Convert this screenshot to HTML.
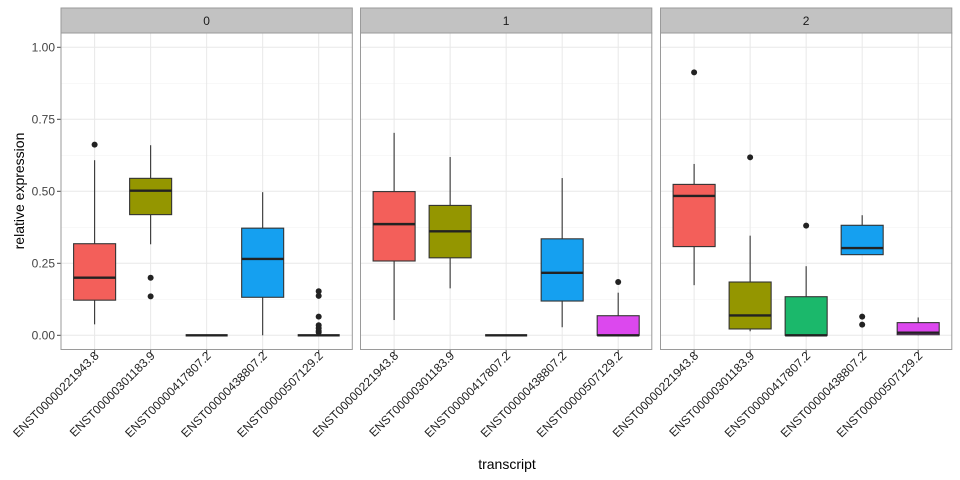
<!DOCTYPE html>
<html><head><meta charset="utf-8"><style>
html,body{margin:0;padding:0;background:#fff;}
svg{display:block;font-family:"Liberation Sans",Arial,sans-serif;}
</style></head><body>
<svg id="chart" width="960" height="480" viewBox="0 0 960 480" xmlns="http://www.w3.org/2000/svg">
<text x="0" y="0" transform="translate(24,191) rotate(-90)" text-anchor="middle" font-size="14" fill="#000">relative expression</text>
<text x="507" y="469" text-anchor="middle" font-size="14" fill="#000">transcript</text>
</svg>
<script>
const facets = ["0","1","2"];
const categories = ["ENST00000221943.8","ENST00000301183.9","ENST00000417807.2","ENST00000438807.2","ENST00000507129.2"];
const colors = ["#F35F5A","#949600","#1BB86B","#15A0F0","#DC48EE"];
const yTicks = [0,0.25,0.5,0.75,1.0];
const yTickLabels = ["0.00","0.25","0.50","0.75","1.00"];
// [low whisker, Q1, median, Q3, high whisker] per facet per category
const stats0 = [[0.038,0.122,0.200,0.318,0.608],[0.316,0.419,0.502,0.545,0.660],[0,0,0,0,0],[0,0.132,0.265,0.372,0.497],[0,0,0,0,0]];
const stats1 = [[0.053,0.258,0.386,0.499,0.703],[0.163,0.269,0.361,0.451,0.619],[0,0,0,0,0],[0.028,0.119,0.217,0.335,0.546],[0,0,0,0.068,0.148]];
const stats2 = [[0.174,0.308,0.484,0.524,0.595],[0.014,0.022,0.069,0.185,0.346],[0,0,0,0.134,0.240],[0.280,0.280,0.303,0.382,0.417],[0,0.002,0.009,0.044,0.062]];
const outliers0 = [[0.662],[0.200,0.135],[],[],[0.153,0.137,0.065,0.035,0.025,0.015,0.01]];
const outliers1 = [[],[],[],[],[0.185]];
const outliers2 = [[0.913],[0.618],[0.381],[0.065,0.037],[]];
const allStats=[stats0,stats1,stats2], allOut=[outliers0,outliers1,outliers2];

const svg=document.getElementById('chart');
const NS='http://www.w3.org/2000/svg';
function mk(tag,attrs,parent){const e=document.createElementNS(NS,tag);for(const k in attrs)e.setAttribute(k,attrs[k]);(parent||svg).appendChild(e);return e;}
const panelLeft=[61,360.5,660.5], panelW=291.3, plotTop=33, plotBot=349.5, stripTop=8;
const y=v=>335.3-v*288;
const step=panelW/(categories.length-1+1.2);
const xPos=(p,i)=>panelLeft[p]+step*(0.6+i);
const bw=step*0.75;

yTicks.forEach((t,i)=>{
  const tl=mk('text',{x:55,y:y(t)+4,'text-anchor':'end','font-size':12,fill:'#444'});
  
  
  tl.textContent=yTickLabels[i];
  const tk=mk('line',{x1:57,x2:61,y1:y(t),y2:y(t),stroke:'#444','stroke-width':1});
  
  
});

facets.forEach((f,p)=>{
  const L=panelLeft[p];
  const g=mk('g',{});
  
  
  mk('rect',{x:L,y:plotTop,width:panelW,height:plotBot-plotTop,fill:'#fff'},g);
  for(let k=0;k<4;k++){const v=0.125+k*0.25;mk('line',{x1:L,x2:L+panelW,y1:y(v),y2:y(v),stroke:'#f3f3f3','stroke-width':0.7},g);}
  yTicks.forEach(t=>mk('line',{x1:L,x2:L+panelW,y1:y(t),y2:y(t),stroke:'#e8e8e8','stroke-width':1},g));
  categories.forEach((c,i)=>mk('line',{x1:xPos(p,i),x2:xPos(p,i),y1:plotTop,y2:plotBot,stroke:'#e8e8e8','stroke-width':1},g));
  categories.forEach((c,i)=>{
    const s=allStats[p][i], x=xPos(p,i);
    const b=mk('g',{},g);
    
    
    mk('line',{x1:x,x2:x,y1:y(s[4]),y2:y(s[3]),stroke:'#333','stroke-width':1.1},b);
    mk('line',{x1:x,x2:x,y1:y(s[1]),y2:y(s[0]),stroke:'#333','stroke-width':1.1},b);
    mk('rect',{x:x-bw/2,y:y(s[3]),width:bw,height:Math.max(0,y(s[1])-y(s[3])),fill:colors[i],stroke:'#333','stroke-width':1.1},b);
    mk('line',{x1:x-bw/2,x2:x+bw/2,y1:y(s[2]),y2:y(s[2]),stroke:'#222','stroke-width':2.4},b);
    allOut[p][i].forEach(o=>{
      const d=mk('circle',{cx:x,cy:y(o),r:3,fill:'#222'},b);
      
      
    });
    const tk=mk('line',{x1:x,x2:x,y1:plotBot,y2:plotBot+4,stroke:'#444','stroke-width':1},g);
    
    
    const tl=mk('text',{x:0,y:0,transform:`translate(${x+5},${plotBot+7}) rotate(-45)`,'text-anchor':'end','font-size':12,fill:'#222'},g);
    
    
    tl.textContent=c;
  });
  mk('rect',{x:L,y:plotTop,width:panelW,height:plotBot-plotTop,fill:'none',stroke:'#9a9a9a','stroke-width':1},g);
  const st=mk('rect',{x:L,y:stripTop,width:panelW,height:plotTop-stripTop,fill:'#c2c2c2',stroke:'#9a9a9a','stroke-width':1},g);
  
  
  const sl=mk('text',{x:L+panelW/2,y:25,'text-anchor':'middle','font-size':12,fill:'#1a1a1a'},g);
  
  
  sl.textContent=f;
});
</script>
</body></html>
